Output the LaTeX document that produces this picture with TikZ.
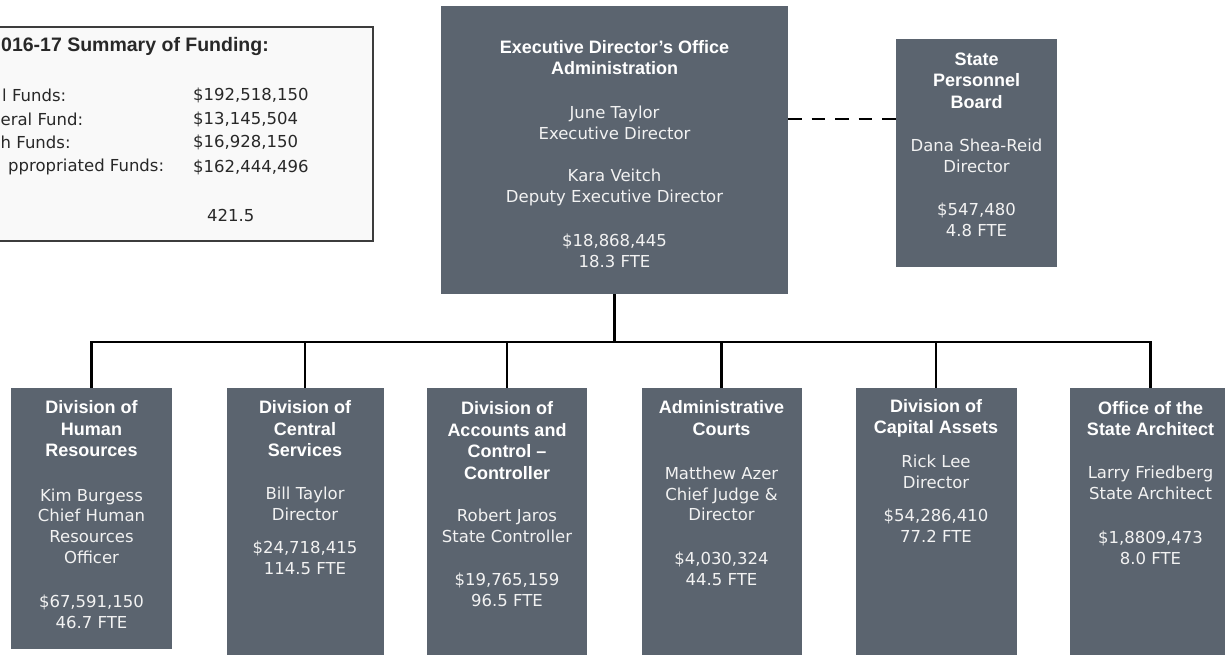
\documentclass[tikz,border=0pt]{standalone}
\usepackage{fontspec}
\setmainfont{DejaVu Sans}
\newfontfamily\titlefont{Liberation Sans}
\definecolor{boxgray}{RGB}{91,100,111}
\definecolor{txtw}{RGB}{242,242,242}
\definecolor{sumfill}{RGB}{249,249,249}
\definecolor{sumline}{RGB}{60,60,60}
\definecolor{sumtext}{RGB}{40,40,40}
\tikzset{
  orgbox/.style={fill=boxgray, draw=none, inner sep=0pt},
  ttl/.style={text=white, align=center, inner sep=0pt, font={\titlefont\bfseries\fontsize{18}{21.5}\selectfont}},
  bdy/.style={text=txtw, align=center, inner sep=0pt, font={\fontsize{16.5}{20.7}\selectfont}},
  sumbox/.style={fill=sumfill, draw=sumline, line width=1.5pt, inner sep=0pt},
  sumttl/.style={text=sumtext, anchor=west, inner sep=0pt, font={\titlefont\bfseries\fontsize{19.5}{22}\selectfont}},
  sumtxt/.style={text=sumtext, anchor=west, inner sep=0pt, font={\fontsize{16.5}{20}\selectfont}},
  conn/.style={line width=2.6pt, draw=black, line join=miter},
  dashline/.style={line width=2.8pt, draw=black, dash pattern=on 13.5pt off 10pt}
}
\begin{document}
\begin{tikzpicture}[x=1pt,y=-1pt]
\useasboundingbox (0,0) rectangle (1225,654);
\clip (0,0) rectangle (1225,654);

% summary box (cut off at the left edge, as in the reference)
\node[sumbox, minimum width=433pt, minimum height=214pt] (sum) at (156.5,134) {};
\node[sumttl] (sumt) at (1,46) {016-17 Summary of Funding:};
\node[sumtxt] (l1) at (2,95) {l Funds:};
\node[sumtxt] (l2) at (0.5,119) {eral Fund:};
\node[sumtxt] (l3) at (0.5,142) {h Funds:};
\node[sumtxt] (l4) at (8,167) {ppropriated Funds:};
\node[sumtxt] (v1) at (193,95) {\$192,518,150};
\node[sumtxt] (v2) at (193,119) {\$13,145,504};
\node[sumtxt] (v3) at (193,142) {\$16,928,150};
\node[sumtxt] (v4) at (193,167) {\$162,444,496};
\node[sumtxt] (v5) at (207,215) {421.5};

% executive director box
\node[orgbox, minimum width=347pt, minimum height=288pt] (exec) at (614.5,150) {};
\node[ttl] (exec-t) at (614.5,57.5) {Executive Director’s Office\\Administration};
\node[bdy] (exec-p1) at (614.5,123) {June Taylor\\Executive Director};
\node[bdy] (exec-p2) at (614.5,187.5) {Kara Veitch\\Deputy Executive Director};
\node[bdy] (exec-m) at (614.5,250.5) {\$18,868,445\\18.3 FTE};

% state personnel board
\node[orgbox, minimum width=161pt, minimum height=228pt] (spb) at (976.5,153) {};
\node[ttl] (spb-t) at (976.5,80.5) {State\\Personnel\\Board};
\node[bdy] (spb-p) at (976.5,156) {Dana Shea-Reid\\Director};
\node[bdy] (spb-m) at (976.5,220) {\$547,480\\4.8 FTE};

% divisions
\node[orgbox, minimum width=161pt, minimum height=261pt] (hr) at (91.5,518.5) {};
\node[ttl] (hr-t) at (91.5,429) {Division of\\Human\\Resources};
\node[bdy] (hr-p) at (91.5,526) {Kim Burgess\\Chief Human\\Resources\\Officer};
\node[bdy] (hr-m) at (91.5,611.5) {\$67,591,150\\46.7 FTE};

\node[orgbox, minimum width=157pt, minimum height=282pt] (cs) at (305,529) {};
\node[ttl] (cs-t) at (305,429) {Division of\\Central\\Services};
\node[bdy] (cs-p) at (305,504) {Bill Taylor\\Director};
\node[bdy] (cs-m) at (305,558) {\$24,718,415\\114.5 FTE};

\node[orgbox, minimum width=160pt, minimum height=282pt] (acc) at (507,529) {};
\node[ttl] (acc-t) at (507,440.5) {Division of\\Accounts and\\Control –\\Controller};
\node[bdy] (acc-p) at (507,526) {Robert Jaros\\State Controller};
\node[bdy] (acc-m) at (507,590) {\$19,765,159\\96.5 FTE};

\node[orgbox, minimum width=160pt, minimum height=282pt] (ac) at (721.5,529) {};
\node[ttl] (ac-t) at (721.5,418) {Administrative\\Courts};
\node[bdy] (ac-p) at (721.5,494) {Matthew Azer\\Chief Judge \&\\Director};
\node[bdy] (ac-m) at (721.5,568.5) {\$4,030,324\\44.5 FTE};

\node[orgbox, minimum width=161pt, minimum height=282pt] (ca) at (936,529) {};
\node[ttl] (ca-t) at (936,418.5) {Division of\\Capital Assets};
\node[bdy] (ca-p) at (936,471.5) {Rick Lee\\Director};
\node[bdy] (ca-m) at (936,525.5) {\$54,286,410\\77.2 FTE};

\node[orgbox, minimum width=161pt, minimum height=282pt] (arch) at (1150.5,529) {};
\node[ttl] (arch-t) at (1150.5,418.5) {Office of the\\State Architect};
\node[bdy] (arch-p) at (1150.5,483) {Larry Friedberg\\State Architect};
\node[bdy] (arch-m) at (1150.5,547.5) {\$1,8809,473\\8.0 FTE};

% connectors
\coordinate (bus) at (614.5,342);
\coordinate (dy) at (840,119);
\draw[conn] (exec.south) -- (bus);
\foreach \n in {hr,cs,acc,ac,ca,arch}{
  \draw[conn] (bus) -| (\n.north);
}
\draw[dashline] (exec.east |- dy) -- (spb.west |- dy);
\end{tikzpicture}
\end{document}
